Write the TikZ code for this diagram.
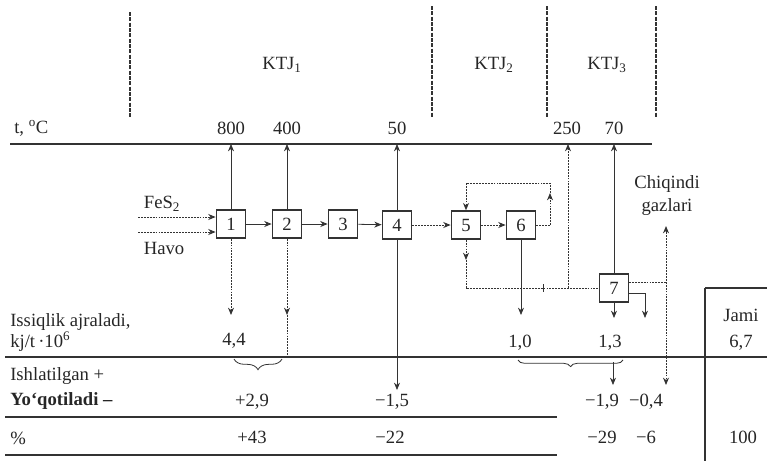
\documentclass[tikz,border=0pt]{standalone}
\usepackage{fontspec}
\setmainfont{Liberation Serif}
\usetikzlibrary{arrows.meta,decorations.pathreplacing}
\begin{document}
\begin{tikzpicture}[x=0.75pt,y=-0.75pt,
  ink/.style={draw=black!80},
  ln/.style={ink,line width=0.6pt},
  dl/.style={ink,line width=0.7pt,dash pattern=on 1.4pt off 0.8pt},
  arr/.style={-{Stealth[length=5.5pt,width=4.5pt]}},
  rule/.style={ink,line width=1.4pt},
  sep/.style={ink,line width=0.8pt,dash pattern=on 3pt off 1pt},
  box/.style={draw=black!80,line width=1.1pt,minimum width=22pt,minimum height=21pt,inner sep=0pt,font=\fontsize{14}{16}\selectfont,text=black!85},
  txt/.style={inner sep=0pt,font=\fontsize{14}{16}\selectfont,text=black!85},
  brc/.style={ink,line width=0.6pt,decorate,decoration={brace,mirror,amplitude=#1}}
]
\useasboundingbox (0,0) rectangle (767,461);

% top separators
\draw[sep] (130,12) -- (130,118);
\draw[sep] (432,6) -- (432,118);
\draw[sep] (547,6) -- (547,118);
\draw[sep] (656,6) -- (656,118);
\node[txt] (k1) at (282,65) {KTJ\textsubscript{1}};
\node[txt] (k2) at (494,65) {KTJ\textsubscript{2}};
\node[txt] (k3) at (607,65) {KTJ\textsubscript{3}};

% temperature axis
\coordinate (axL) at (10,144);
\coordinate (axR) at (652,144);
\draw[rule] (axL) -- (axR);
\node[txt,anchor=west] (tC) at (14,128) {t, \textsuperscript{o}C};
\node[txt] (t800) at (231,128) {800};
\node[txt] (t400) at (287,128) {400};
\node[txt] (t50) at (397,128) {50};
\node[txt] (t250) at (567,128) {250};
\node[txt] (t70) at (614,128) {70};

% boxes
\node[box] (b1) at (231,224) {1};
\node[box] (b2) at (287,224) {2};
\node[box] (b3) at (343,224) {3};
\node[box] (b4) at (397,225) {4};
\node[box] (b5) at (466,225) {5};
\node[box] (b6) at (521,225) {6};
\node[box] (b7) at (614,288) {7};

% inputs
\coordinate (fin) at (138,217);
\coordinate (hin) at (138,232);
\draw[dl,arr] (fin) -- (b1.west |- fin);
\draw[dl,arr] (hin) -- (b1.west |- hin);
\node[txt] (fes) at (162,204) {FeS\textsubscript{2}};
\node[txt] (havo) at (164,248) {Havo};

% main chain
\draw[ln,arr] (b1) -- (b2);
\draw[ln,arr] (b2) -- (b3);
\draw[ln,arr] (b3) -- (b4);
\draw[dl,arr] (b4) -- (b5);
\draw[dl,arr] (b5) -- (b6);

% up arrows to the axis
\draw[ln,arr] (b1.north) -- (b1.north |- axL);
\draw[ln,arr] (b2.north) -- (b2.north |- axL);
\draw[ln,arr] (b4.north) -- (b4.north |- axL);
\draw[ln,arr] (b7.north) -- (b7.north |- axL);

% recycle 6 -> 5
\coordinate (rA) at (550,225);
\coordinate (rB) at (550,193);
\coordinate (rC) at (550,183);
\coordinate (rD) at (466,183);
\draw[dl] (b6.east) -- (rA);
\draw[dl,arr] (rA) -- (rB);
\draw[dl] (rB) -- (rC) -- (rD);
\draw[dl,arr] (rD) -- (b5.north);

% 5 -> 7 line
\coordinate (d5) at (466,260);
\coordinate (c5) at (466,288);
\coordinate (j5) at (568,288);
\draw[dl,arr] (b5.south) -- (d5);
\draw[dl] (d5) -- (c5) -- (b7.west);
\draw[dl,arr] (j5) -- (j5 |- axL);
\draw[ln] (543,284) -- (543,292);

% heat release arrows
\coordinate (h1) at (231,315);
\coordinate (h2) at (287,315);
\coordinate (h2e) at (287,357);
\draw[dl,arr] (b1.south) -- (h1);
\draw[dl,arr] (b2.south) -- (h2);
\draw[dl] (h2) -- (h2e);
\coordinate (h6) at (521,315);
\draw[ln,arr] (b6.south) -- (h6);
\coordinate (h7) at (614,318);
\draw[ln,arr] (b7.south) -- (h7);
\coordinate (s7a) at (629,293);
\coordinate (s7b) at (645,293);
\coordinate (s7c) at (645,318);
\draw[ln,arr] (s7a) -- (s7b) -- (s7c);

% waste gases
\coordinate (g7a) at (629,282);
\coordinate (g7b) at (666,282);
\coordinate (gtop) at (666,226);
\coordinate (gbot) at (666,357);
\coordinate (gdn) at (666,385);
\draw[dl] (g7a) -- (g7b);
\draw[dl,arr] (gbot) -- (gtop);
\draw[dl,arr] (gbot) -- (gdn);
\node[txt] (chq) at (667,184) {Chiqindi};
\node[txt] (gaz) at (667,207) {gazlari};

% box 4 loss
\coordinate (l4a) at (397,357);
\coordinate (l4b) at (397,390);
\draw[ln] (b4.south) -- (l4a);
\draw[ln,arr] (l4a) -- (l4b);

% table rules
\draw[rule] (5,357) -- (767,357);
\draw[rule] (5,417) -- (557,417);
\draw[rule] (5,455) -- (557,455);
\draw[rule] (705,288) -- (767,288);
\draw[rule] (705,288) -- (705,461);

% braces
\coordinate (br1a) at (234,359);
\coordinate (br1b) at (282,359);
\draw[brc=8pt] (br1a) -- (br1b);
\coordinate (br2a) at (518,360);
\coordinate (br2b) at (623,360);
\draw[brc=5pt] (br2a) -- (br2b);
\coordinate (u19a) at (613,362);
\coordinate (u19b) at (613,385);
\draw[ln,arr] (u19a) -- (u19b);

% left labels
\node[txt,anchor=west] (iss) at (10,322) {Issiqlik ajraladi,};
\node[txt,anchor=west] (kjt) at (10,342) {kj/t\,·10\textsuperscript{6}};
\node[txt,anchor=west] (ish) at (10,376) {Ishlatilgan +};
\node[txt,anchor=west,font=\fontsize{14}{16}\selectfont\bfseries] (yoq) at (10,401) {Yo‘qotiladi –};
\node[txt,anchor=west] (pct) at (10,438) {\%};

% values
\node[txt] (v44) at (234,341) {4,4};
\node[txt] (v10) at (520,343) {1,0};
\node[txt] (v13) at (610,343) {1,3};
\node[txt] (v67) at (741,343) {6,7};
\node[txt] (jami) at (741,315) {Jami};
\node[txt] (v29) at (252,402) {+2,9};
\node[txt] (v15) at (392,402) {−1,5};
\node[txt] (v19) at (602,402) {−1,9};
\node[txt] (v04) at (646,402) {−0,4};
\node[txt] (v43) at (252,437) {+43};
\node[txt] (v22) at (390,437) {−22};
\node[txt] (v29p) at (602,437) {−29};
\node[txt] (v6) at (646,437) {−6};
\node[txt] (v100) at (743,437) {100};
\end{tikzpicture}
\end{document}
